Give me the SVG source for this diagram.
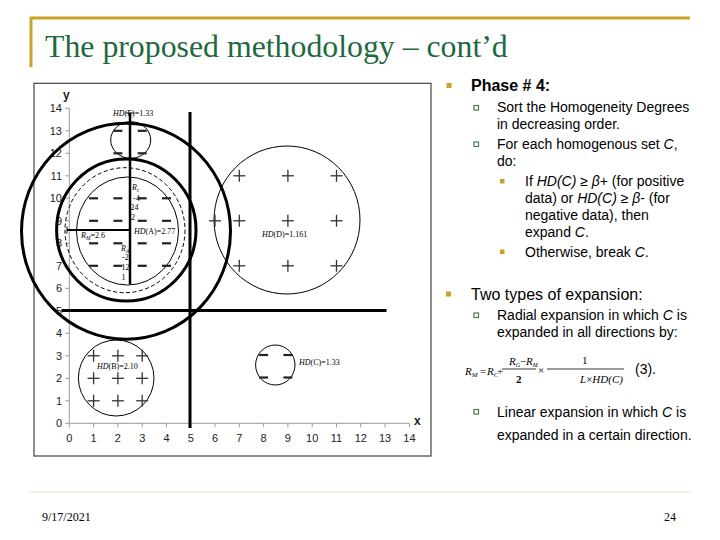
<svg xmlns="http://www.w3.org/2000/svg" width="720" height="540" viewBox="0 0 720 540">
<style>
.ax{font-family:"Liberation Sans",Arial,sans-serif;font-size:11px;fill:#222}
.axb{font-family:"Liberation Sans",Arial,sans-serif;font-size:12px;font-weight:bold;fill:#222}
.lbl{font-family:"Liberation Serif","Times New Roman",serif;font-size:8px;fill:#000}
.it{font-style:italic}
.body{font-family:"Liberation Sans",Arial,sans-serif;font-size:14px;fill:#000}
.h1{font-family:"Liberation Sans",Arial,sans-serif;font-size:16px;fill:#000}
.fm{font-family:"Liberation Serif","Times New Roman",serif;font-size:11px;font-style:italic;fill:#000}
.fu{font-family:"Liberation Serif","Times New Roman",serif;font-size:11px;fill:#000}
.thin{fill:none;stroke:#000;stroke-width:1}
.thick{fill:none;stroke:#000;stroke-width:3}
.gold{fill:#c9a227}
.sq{fill:#fff;stroke:#4d7a55;stroke-width:1.2}
.grid{stroke:#9a9a9a;stroke-width:1}
</style>
<defs>
<g id="minus"><line x1="-4.5" y1="0" x2="4.5" y2="0" stroke="#222" stroke-width="2.2"/></g>
<g id="plus"><line x1="-6" y1="0" x2="6" y2="0" stroke="#333" stroke-width="1.3"/><line x1="0" y1="-6" x2="0" y2="6" stroke="#333" stroke-width="1.3"/></g>
</defs>
<rect width="720" height="540" fill="#fff"/>

<g id="title">
<line x1="30" y1="18" x2="690" y2="18" stroke="#c9a227" stroke-width="3"/>
<line x1="31" y1="17" x2="31" y2="67" stroke="#c9a227" stroke-width="3"/>
<text x="45" y="57" font-family="Liberation Serif,'Times New Roman',serif" font-size="31.8" fill="#1d6a3e">The proposed methodology – cont’d</text>
</g>

<g id="chart">
<rect x="34" y="83.3" width="397" height="372.7" fill="#fff" stroke="#444" stroke-width="1.2"/>
<g id="axes">
<line class="grid" x1="69.3" y1="108.3" x2="69.3" y2="423.3"/>
<line class="grid" x1="69.3" y1="423.3" x2="409.4" y2="423.3"/>
<g class="grid">
<line x1="65.3" y1="423.3" x2="69.3" y2="423.3"/><line x1="65.3" y1="400.8" x2="69.3" y2="400.8"/><line x1="65.3" y1="378.3" x2="69.3" y2="378.3"/><line x1="65.3" y1="355.8" x2="69.3" y2="355.8"/><line x1="65.3" y1="333.3" x2="69.3" y2="333.3"/><line x1="65.3" y1="310.8" x2="69.3" y2="310.8"/><line x1="65.3" y1="288.3" x2="69.3" y2="288.3"/><line x1="65.3" y1="265.8" x2="69.3" y2="265.8"/><line x1="65.3" y1="243.3" x2="69.3" y2="243.3"/><line x1="65.3" y1="220.8" x2="69.3" y2="220.8"/><line x1="65.3" y1="198.3" x2="69.3" y2="198.3"/><line x1="65.3" y1="175.8" x2="69.3" y2="175.8"/><line x1="65.3" y1="153.3" x2="69.3" y2="153.3"/><line x1="65.3" y1="130.8" x2="69.3" y2="130.8"/><line x1="65.3" y1="108.3" x2="69.3" y2="108.3"/>
<line x1="69.3" y1="423.3" x2="69.3" y2="427.3"/><line x1="93.6" y1="423.3" x2="93.6" y2="427.3"/><line x1="117.9" y1="423.3" x2="117.9" y2="427.3"/><line x1="142.2" y1="423.3" x2="142.2" y2="427.3"/><line x1="166.5" y1="423.3" x2="166.5" y2="427.3"/><line x1="190.8" y1="423.3" x2="190.8" y2="427.3"/><line x1="215" y1="423.3" x2="215" y2="427.3"/><line x1="239.3" y1="423.3" x2="239.3" y2="427.3"/><line x1="263.6" y1="423.3" x2="263.6" y2="427.3"/><line x1="287.9" y1="423.3" x2="287.9" y2="427.3"/><line x1="312.2" y1="423.3" x2="312.2" y2="427.3"/><line x1="336.5" y1="423.3" x2="336.5" y2="427.3"/><line x1="360.8" y1="423.3" x2="360.8" y2="427.3"/><line x1="385.1" y1="423.3" x2="385.1" y2="427.3"/><line x1="409.4" y1="423.3" x2="409.4" y2="427.3"/>
</g>
<g class="ax" text-anchor="end">
<text x="62" y="427.3">0</text><text x="62" y="404.8">1</text><text x="62" y="382.3">2</text><text x="62" y="359.8">3</text><text x="62" y="337.3">4</text><text x="62" y="314.8">5</text><text x="62" y="292.3">6</text><text x="62" y="269.8">7</text><text x="62" y="247.3">8</text><text x="62" y="224.8">9</text><text x="62" y="202.3">10</text><text x="62" y="179.8">11</text><text x="62" y="157.3">12</text><text x="62" y="134.8">13</text><text x="62" y="112.3">14</text>
</g>
<g class="ax" text-anchor="middle">
<text x="69.3" y="442">0</text><text x="93.6" y="442">1</text><text x="117.9" y="442">2</text><text x="142.2" y="442">3</text><text x="166.5" y="442">4</text><text x="190.8" y="442">5</text><text x="215" y="442">6</text><text x="239.3" y="442">7</text><text x="263.6" y="442">8</text><text x="287.9" y="442">9</text><text x="312.2" y="442">10</text><text x="336.5" y="442">11</text><text x="360.8" y="442">12</text><text x="385.1" y="442">13</text><text x="409.4" y="442">14</text>
</g>
<text class="axb" x="63" y="99">y</text>
<text class="axb" x="414" y="425">x</text>
</g>

<g id="cluster-A">
<ellipse class="thick" cx="126" cy="231.3" rx="104.5" ry="108"/>
<ellipse class="thick" cx="126.3" cy="230" rx="69.7" ry="71"/>
<ellipse cx="125" cy="230.2" rx="60" ry="62.5" fill="none" stroke="#000" stroke-width="1" stroke-dasharray="4,2.5"/>
<ellipse class="thin" cx="127.5" cy="231" rx="51" ry="54"/>
<use href="#minus" x="93.6" y="198.3"/><use href="#minus" x="117.9" y="198.3"/><use href="#minus" x="142.2" y="198.3"/><use href="#minus" x="166.5" y="198.3"/>
<use href="#minus" x="93.6" y="220.8"/><use href="#minus" x="117.9" y="220.8"/><use href="#minus" x="142.2" y="220.8"/><use href="#minus" x="166.5" y="220.8"/>
<use href="#minus" x="93.6" y="243.3"/><use href="#minus" x="117.9" y="243.3"/><use href="#minus" x="142.2" y="243.3"/><use href="#minus" x="166.5" y="243.3"/>
<use href="#minus" x="93.6" y="265.8"/><use href="#minus" x="117.9" y="265.8"/><use href="#minus" x="142.2" y="265.8"/><use href="#minus" x="166.5" y="265.8"/>
<line x1="130" y1="113" x2="130" y2="284" stroke="#000" stroke-width="2.5"/>
<line x1="126" y1="113" x2="134" y2="113" stroke="#000" stroke-width="1"/>
<line x1="67" y1="230" x2="130" y2="230" stroke="#000" stroke-width="2"/>
<line x1="67" y1="226.5" x2="67" y2="233.5" stroke="#000" stroke-width="1"/>
<text class="lbl" x="134" y="233.5"><tspan class="it">HD</tspan>(A)=2.77</text>
<text class="lbl" x="81" y="238"><tspan class="it">R</tspan><tspan font-size="5.5" class="it" dy="2">M</tspan><tspan dy="-2">=2.6</tspan></text>
<text class="lbl" x="132" y="190"><tspan class="it">R</tspan><tspan font-size="5.5" class="it" dy="2">c</tspan></text>
<text class="lbl" x="133" y="200.5">-4</text>
<text class="lbl" x="130.5" y="210">24</text>
<text class="lbl" x="131" y="219.5">2</text>
<text class="lbl" x="121" y="250.5"><tspan class="it">R</tspan><tspan font-size="5.5" class="it" dy="2">A</tspan></text>
<text class="lbl" x="122" y="260">-2</text>
<text class="lbl" x="121.5" y="270">12</text>
<text class="lbl" x="121.5" y="279.5">1</text>
</g>

<g id="cluster-E">
<ellipse class="thin" cx="130.7" cy="140" rx="20" ry="18.3"/>
<use href="#minus" x="117.9" y="130.8"/><use href="#minus" x="142.2" y="130.8"/>
<use href="#minus" x="117.9" y="153.3"/><use href="#minus" x="142.2" y="153.3"/>
<text class="lbl" x="113" y="115.5"><tspan class="it">HD</tspan>(E)=1.33</text>
</g>

<g id="cluster-D">
<ellipse class="thin" cx="287" cy="220" rx="73" ry="74"/>
<use href="#plus" x="239.3" y="175.8"/><use href="#plus" x="287.9" y="175.8"/><use href="#plus" x="336.5" y="175.8"/>
<use href="#plus" x="215" y="220.8"/><use href="#plus" x="239.3" y="220.8"/><use href="#plus" x="287.9" y="220.8"/><use href="#plus" x="336.5" y="220.8"/>
<use href="#plus" x="239.3" y="265.8"/><use href="#plus" x="287.9" y="265.8"/><use href="#plus" x="336.5" y="265.8"/>
<text class="lbl" x="262" y="236.5"><tspan class="it">HD</tspan>(D)=1.161</text>
</g>

<g id="cluster-B">
<ellipse class="thin" cx="116.2" cy="378" rx="37.8" ry="38"/>
<use href="#plus" x="93.6" y="355.8"/><use href="#plus" x="117.9" y="355.8"/><use href="#plus" x="142.2" y="355.8"/>
<use href="#plus" x="93.6" y="378.3"/><use href="#plus" x="117.9" y="378.3"/><use href="#plus" x="142.2" y="378.3"/>
<use href="#plus" x="93.6" y="400.8"/><use href="#plus" x="117.9" y="400.8"/><use href="#plus" x="142.2" y="400.8"/>
<text class="lbl" x="97" y="368.5"><tspan class="it">HD</tspan>(B)=2.10</text>
</g>

<g id="cluster-C">
<ellipse class="thin" cx="275.3" cy="365" rx="19.7" ry="20"/>
<use href="#minus" x="263.6" y="355"/><use href="#minus" x="287.9" y="355"/>
<use href="#minus" x="263.6" y="377.5"/><use href="#minus" x="287.9" y="377.5"/>
<text class="lbl" x="299" y="365"><tspan class="it">HD</tspan>(C)=1.33</text>
</g>

<g id="connectors">
<line x1="190" y1="112" x2="190" y2="428" stroke="#000" stroke-width="3"/>
<line x1="61.5" y1="310.5" x2="386.5" y2="310.5" stroke="#000" stroke-width="3"/>
</g>
</g>

<g id="text-phase4">
<rect class="gold" x="446.5" y="83" width="5" height="5"/>
<text class="h1" x="471" y="91" font-weight="bold">Phase # 4:</text>
<rect class="sq" x="474" y="105.5" width="4.5" height="4.5"/>
<text class="body" x="497" y="112">Sort the Homogeneity Degrees</text>
<text class="body" x="497" y="129">in decreasing order.</text>
<rect class="sq" x="474" y="142" width="4.5" height="4.5"/>
<text class="body" x="497" y="149">For each homogenous set <tspan class="it">C</tspan>,</text>
<text class="body" x="497" y="166">do:</text>
<rect class="gold" x="500" y="179" width="4.5" height="4.5"/>
<text class="body" x="525" y="186">If <tspan class="it">HD(C)</tspan> ≥ <tspan class="it">β</tspan>+ (for positive</text>
<text class="body" x="525" y="203">data) or <tspan class="it">HD(C)</tspan> ≥ <tspan class="it">β</tspan>- (for</text>
<text class="body" x="525" y="220">negative data), then</text>
<text class="body" x="525" y="237">expand <tspan class="it">C</tspan>.</text>
<rect class="gold" x="500" y="249.5" width="4.5" height="4.5"/>
<text class="body" x="525" y="256.5">Otherwise, break <tspan class="it">C</tspan>.</text>
</g>

<g id="text-expansion">
<rect class="gold" x="446" y="291.5" width="5" height="5"/>
<text class="h1" x="471" y="300">Two types of expansion:</text>
<rect class="sq" x="474" y="313" width="4.5" height="4.5"/>
<text class="body" x="497" y="320">Radial expansion in which <tspan class="it">C</tspan> is</text>
<text class="body" x="497" y="337">expanded in all directions by:</text>
<g id="formula">
<text class="fm" x="465" y="375">R<tspan font-size="7" dy="2">M</tspan></text>
<text class="fu" x="480" y="375">=</text>
<text class="fm" x="487" y="375">R<tspan font-size="7" dy="2">C</tspan></text>
<text class="fu" x="497" y="375">+</text>
<line x1="502" y1="369" x2="536" y2="369" stroke="#000" stroke-width="0.8"/>
<text class="fm" x="509" y="364.5" font-size="9">R<tspan font-size="6" dy="2">G</tspan></text>
<text class="fu" x="520" y="364.5" font-size="9">−</text>
<text class="fm" x="526" y="364.5" font-size="9">R<tspan font-size="6" dy="2">M</tspan></text>
<text class="fu" x="516" y="383" font-weight="bold" font-size="10">2</text>
<text class="fu" x="538" y="374" font-size="9">×</text>
<line x1="547" y1="369" x2="624" y2="369" stroke="#000" stroke-width="0.8"/>
<text class="fu" x="582" y="363.5" font-size="10">1</text>
<text class="fm" x="580" y="382.5" font-size="11">L<tspan font-style="normal">×</tspan>HD(C)</text>
<text class="body" x="635" y="374">(3).</text>
</g>
<rect class="sq" x="474" y="409.5" width="4.5" height="4.5"/>
<text class="body" x="497" y="416.5">Linear expansion in which <tspan class="it">C</tspan> is</text>
<text class="body" x="497" y="439.5">expanded in a certain direction.</text>
</g>

<g id="footer">
<line x1="30" y1="492" x2="690" y2="492" stroke="#f1ebd2" stroke-width="1.5"/>
<text x="42" y="521" font-family="Liberation Serif,'Times New Roman',serif" font-size="12" fill="#000">9/17/2021</text>
<text x="664" y="521" font-family="Liberation Serif,'Times New Roman',serif" font-size="12" fill="#000">24</text>
</g>
</svg>
